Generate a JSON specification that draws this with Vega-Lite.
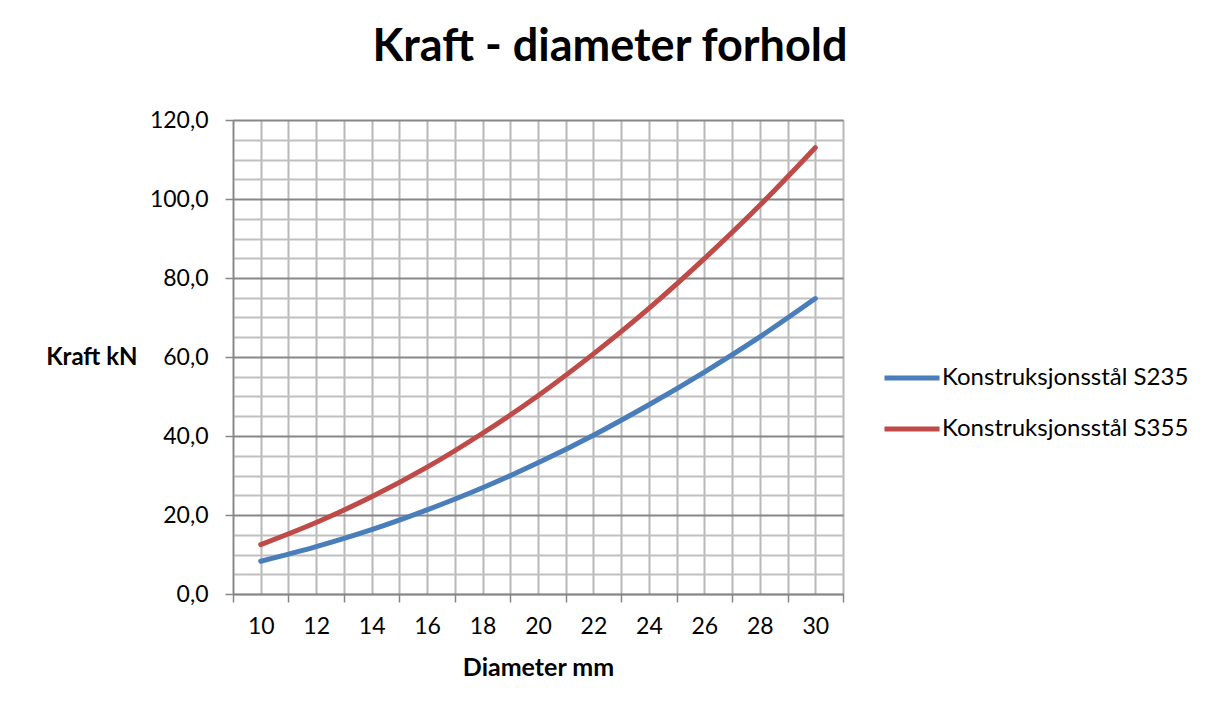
{
  "$schema": "https://vega.github.io/schema/vega-lite/v6.json",
  "autosize": "none",
  "width": 610,
  "height": 474,
  "padding": {"left": 233, "top": 120, "right": 368, "bottom": 114},
  "background": "white",
  "title": {
    "text": "Kraft - diameter forhold",
    "font": "Lato",
    "fontSize": 45,
    "fontWeight": "bold",
    "color": "#000000",
    "anchor": "middle",
    "dx": 72,
    "baseline": "alphabetic",
    "offset": 3
  },
  "data": {
    "values": [
      {"serie": "Konstruksjonsstål S235", "d": 10, "F": 8.3},
      {"serie": "Konstruksjonsstål S235", "d": 12, "F": 12.0},
      {"serie": "Konstruksjonsstål S235", "d": 14, "F": 16.3},
      {"serie": "Konstruksjonsstål S235", "d": 16, "F": 21.3},
      {"serie": "Konstruksjonsstål S235", "d": 18, "F": 26.9},
      {"serie": "Konstruksjonsstål S235", "d": 20, "F": 33.2},
      {"serie": "Konstruksjonsstål S235", "d": 22, "F": 40.2},
      {"serie": "Konstruksjonsstål S235", "d": 24, "F": 47.9},
      {"serie": "Konstruksjonsstål S235", "d": 26, "F": 56.2},
      {"serie": "Konstruksjonsstål S235", "d": 28, "F": 65.1},
      {"serie": "Konstruksjonsstål S235", "d": 30, "F": 74.8},
      {"serie": "Konstruksjonsstål S355", "d": 10, "F": 12.5},
      {"serie": "Konstruksjonsstål S355", "d": 12, "F": 18.1},
      {"serie": "Konstruksjonsstål S355", "d": 14, "F": 24.6},
      {"serie": "Konstruksjonsstål S355", "d": 16, "F": 32.1},
      {"serie": "Konstruksjonsstål S355", "d": 18, "F": 40.7},
      {"serie": "Konstruksjonsstål S355", "d": 20, "F": 50.2},
      {"serie": "Konstruksjonsstål S355", "d": 22, "F": 60.8},
      {"serie": "Konstruksjonsstål S355", "d": 24, "F": 72.3},
      {"serie": "Konstruksjonsstål S355", "d": 26, "F": 84.9},
      {"serie": "Konstruksjonsstål S355", "d": 28, "F": 98.4},
      {"serie": "Konstruksjonsstål S355", "d": 30, "F": 113.0}
    ]
  },
  "mark": {"type": "line", "strokeWidth": 5, "strokeCap": "round", "strokeJoin": "round", "interpolate": "monotone"},
  "encoding": {
    "x": {
      "field": "d",
      "type": "quantitative",
      "scale": {"domain": [9, 31], "nice": false, "zero": false},
      "axis": {
        "values": [9, 10, 11, 12, 13, 14, 15, 16, 17, 18, 19, 20, 21, 22, 23, 24, 25, 26, 27, 28, 29, 30, 31],
        "labelExpr": "datum.value % 2 === 0 ? datum.value : ''",
        "labelFont": "Lato",
        "labelFontSize": 23,
        "labelColor": "#000000",
        "labelPadding": 13,
        "labelFlush": false,
        "labelOverlap": false,
        "tickSize": 8,
        "tickWidth": 1.5,
        "tickColor": "#868686",
        "tickOpacity": {"condition": {"test": "datum.value % 2 === 1", "value": 1}, "value": 0},
        "domainColor": "#868686",
        "domainWidth": 1.5,
        "grid": true,
        "gridColor": "#b8b8b8",
        "gridWidth": 2,
        "title": "Diameter mm",
        "titleFont": "Lato",
        "titleFontSize": 25,
        "titleFontWeight": "bold",
        "titleColor": "#000000",
        "titleBaseline": "alphabetic",
        "titleY": 81
      }
    },
    "y": {
      "field": "F",
      "type": "quantitative",
      "scale": {"domain": [0, 120], "nice": false},
      "axis": {
        "values": [0, 5, 10, 15, 20, 25, 30, 35, 40, 45, 50, 55, 60, 65, 70, 75, 80, 85, 90, 95, 100, 105, 110, 115, 120],
        "labelExpr": "datum.value % 20 === 0 ? replace(format(datum.value, '.1f'), '.', ',') : ''",
        "labelFont": "Lato",
        "labelFontSize": 23,
        "labelColor": "#000000",
        "labelPadding": 17,
        "labelFlush": false,
        "labelOverlap": false,
        "tickSize": 8,
        "tickWidth": 1.5,
        "tickColor": "#868686",
        "tickOpacity": {"condition": {"test": "datum.value % 20 === 0", "value": 1}, "value": 0},
        "domainColor": "#868686",
        "domainWidth": 1.5,
        "grid": true,
        "gridColor": {"condition": {"test": "datum.value % 20 === 0", "value": "#878787"}, "value": "#c0c0c0"},
        "gridWidth": 2,
        "title": "Kraft kN",
        "titleFont": "Lato",
        "titleFontSize": 24,
        "titleFontWeight": "bold",
        "titleColor": "#000000",
        "titleAngle": 0,
        "titleAlign": "right",
        "titleBaseline": "middle",
        "titleX": -96,
        "titleY": 237
      }
    },
    "color": {
      "field": "serie",
      "type": "nominal",
      "scale": {"domain": ["Konstruksjonsstål S235", "Konstruksjonsstål S355"], "range": ["#4a7ebb", "#be4b48"]},
      "legend": {
        "title": null,
        "orient": "none",
        "legendX": 649,
        "legendY": 228,
        "symbolType": "stroke",
        "symbolSize": 3025,
        "symbolStrokeWidth": 5,
        "labelFont": "Lato",
        "labelFontSize": 24,
        "labelColor": "#000000",
        "labelOffset": 0,
        "labelLimit": 400,
        "rowPadding": 9
      }
    }
  },
  "config": {
    "view": {"stroke": "#a0a0a0", "strokeWidth": 1}
  }
}
